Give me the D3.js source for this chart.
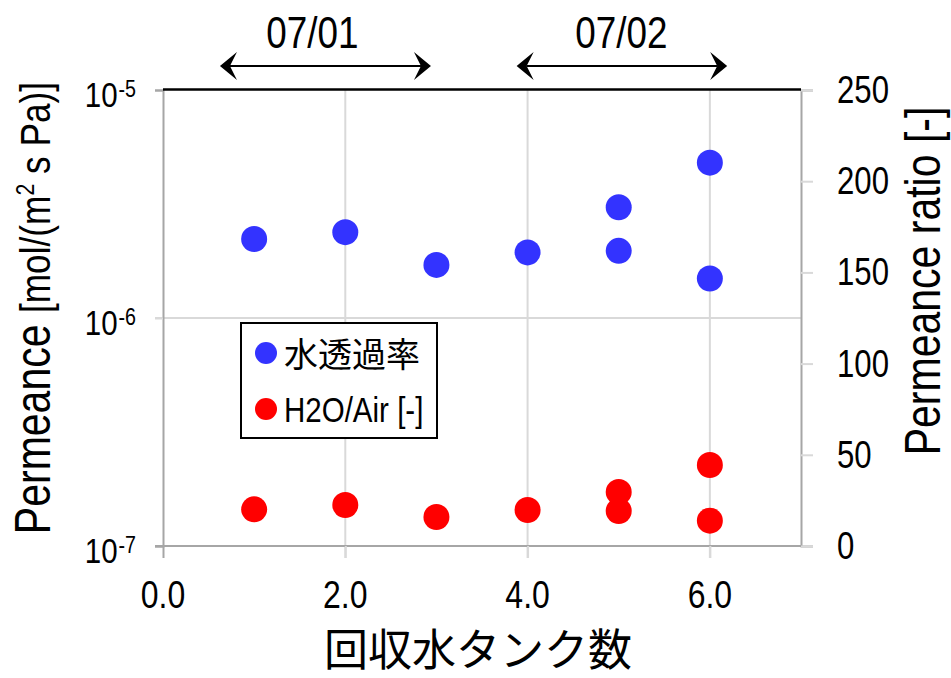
<!DOCTYPE html>
<html>
<head>
<meta charset="utf-8">
<script src="https://cdn.jsdelivr.net/npm/d3@7"></script>
<style>
  html, body { margin: 0; padding: 0; background: #fff; }
  svg { display: block; }
</style>
</head>
<body>
<svg id="chart" width="951" height="678"></svg>
<script>
// Number of recovered water tanks (x) for each measurement
const tanks = [1, 2, 3, 4, 5, 5, 6, 6];
// Water permeance [mol/(m2 s Pa)], left log axis
const waterPermeance = [2.22e-6, 2.38e-6, 1.71e-6, 1.94e-6, 3.06e-6, 1.97e-6, 4.80e-6, 1.49e-6];
// H2O/Air permeance ratio [-], right axis
const permeanceRatio = [20.1, 22.5, 15.9, 19.7, 29.6, 19.2, 44.4, 13.9];

const xTicks = [0, 2, 4, 6];
const leftTicks = [1e-7, 1e-6, 1e-5];
const rightTicks = [0, 50, 100, 150, 200, 250];

// Measurement days spanning tank ranges
const periodLabels = ["07/01", "07/02"];
const periodStart = [0.625, 3.88];
const periodEnd = [2.94, 6.19];
const periodLabelAt = [1.64, 5.03];

const seriesNames = ["水透過率", "H2O/Air [-]"];
const seriesColors = ["#3333ff", "#ff0000"];

const SANS = "'Liberation Sans', Arial, sans-serif";
const CJK = "'Noto Sans CJK JP', sans-serif";
const SQUEEZE = 0.82; // condensed Latin lettering

const svg = d3.select("#chart");
const L = 163, R = 801, T = 90, B = 546;

const x = d3.scaleLinear().domain([0, 7]).range([L, R]);
const yL = d3.scaleLog().domain([1e-7, 1e-5]).range([B, T]);
const yR = d3.scaleLinear().domain([0, 250]).range([B, T]);

const gridColor = "#d9d9d9";
const axisColor = "#a6a6a6";

// condensed text placed at (px, py), optionally rotated
function narrow(parent, px, py, size, anchor, rotate) {
  return parent.append("text")
    .attr("transform", `translate(${px},${py})${rotate ? " rotate(-90)" : ""} scale(${SQUEEZE},1)`)
    .attr("text-anchor", anchor || "start")
    .style("font-family", SANS).style("font-size", size + "px")
    .attr("fill", "#000");
}

// vertical grid lines (continue below the axis as ticks)
svg.append("g").selectAll("line").data(xTicks.filter(d => d > 0)).join("line")
  .attr("x1", d => x(d)).attr("x2", d => x(d))
  .attr("y1", T).attr("y2", B + 12)
  .attr("stroke", gridColor).attr("stroke-width", 2);

// horizontal grid lines on the log axis
svg.append("g").selectAll("line").data(leftTicks.slice(1, -1)).join("line")
  .attr("x1", L - 8).attr("x2", R)
  .attr("y1", d => yL(d)).attr("y2", d => yL(d))
  .attr("stroke", gridColor).attr("stroke-width", 2);

// left axis
const gLeft = svg.append("g").attr("transform", `translate(${L},0)`)
  .call(d3.axisLeft(yL).tickValues(leftTicks).tickSize(8).tickFormat(() => ""));
gLeft.select(".domain").attr("stroke", axisColor).attr("stroke-width", 2);
gLeft.selectAll(".tick line").attr("stroke", d => (d === 1e-6 ? gridColor : axisColor)).attr("stroke-width", 2);

const gLeftLabels = svg.append("g");
leftTicks.forEach(v => {
  const t = narrow(gLeftLabels, 136, yL(v) + 17, 36, "end");
  t.append("tspan").text("10");
  t.append("tspan").style("font-size", "24px").attr("dy", -10).attr("dx", 1)
    .text(String(Math.round(Math.log10(v))));
});

// right axis
const gRight = svg.append("g").attr("transform", `translate(${R},0)`)
  .call(d3.axisRight(yR).tickValues(rightTicks).tickSize(12).tickFormat(() => ""));
gRight.select(".domain").attr("stroke", axisColor).attr("stroke-width", 2);
gRight.selectAll(".tick line").attr("stroke", gridColor).attr("stroke-width", 2);
const gRightLabels = svg.append("g");
rightTicks.forEach(v => {
  narrow(gRightLabels, 837, yR(v) + 13, 38, "start").text(d3.format("d")(v));
});

// bottom axis
const gBottom = svg.append("g").attr("transform", `translate(0,${B})`)
  .call(d3.axisBottom(x).tickValues(xTicks).tickSize(12).tickFormat(() => ""));
gBottom.select(".domain").attr("stroke", axisColor).attr("stroke-width", 2)
  .attr("d", `M${L - 8},0H${R}`);
gBottom.selectAll(".tick line").attr("stroke", d => (d === 0 ? axisColor : gridColor)).attr("stroke-width", 2);
const gBottomLabels = svg.append("g");
xTicks.forEach(v => {
  narrow(gBottomLabels, x(v), 608, 39, "middle").text(d3.format(".1f")(v));
});

// top border
svg.append("line").attr("x1", L).attr("x2", R).attr("y1", T - 0.5).attr("y2", T - 0.5)
  .attr("stroke", "#000").attr("stroke-width", 2.5);

// water permeance points
svg.append("g").selectAll("circle").data(tanks).join("circle")
  .attr("cx", d => x(d)).attr("cy", (d, i) => yL(waterPermeance[i]))
  .attr("r", 13).attr("fill", seriesColors[0]);

// permeance ratio points
svg.append("g").selectAll("circle").data(tanks).join("circle")
  .attr("cx", d => x(d)).attr("cy", (d, i) => yR(permeanceRatio[i]))
  .attr("r", 13).attr("fill", seriesColors[1]);

// axis titles
const leftTitle = narrow(svg, 50, 308, 50, "middle", true);
leftTitle.append("tspan").text("Permeance ");
leftTitle.append("tspan").style("font-size", "43px").text("[mol/(m");
leftTitle.append("tspan").style("font-size", "26px").attr("dy", -16).text("2");
leftTitle.append("tspan").style("font-size", "43px").attr("dy", 16).text(" s Pa)]");

narrow(svg, 940, 281, 50, "middle", true).text("Permeance ratio [-]");

svg.append("text")
  .attr("x", 478).attr("y", 666).attr("text-anchor", "middle")
  .style("font-family", CJK).style("font-size", "44px").attr("fill", "#000")
  .text("回収水タンク数");

// legend
const legend = svg.append("g");
legend.append("rect").attr("x", 241).attr("y", 323).attr("width", 196).attr("height", 115)
  .attr("fill", "#fff").attr("stroke", "#000").attr("stroke-width", 2);
const legendY = [353, 409];
legend.selectAll("circle").data(seriesNames).join("circle")
  .attr("cx", 266).attr("cy", (d, i) => legendY[i]).attr("r", 11)
  .attr("fill", (d, i) => seriesColors[i]);
legend.append("text").attr("x", 284).attr("y", legendY[0]).attr("dy", "0.4em")
  .style("font-family", CJK).style("font-size", "34px").attr("fill", "#000")
  .text(seriesNames[0]);
narrow(legend, 284, legendY[1] + 13, 36, "start").text(seriesNames[1]);

// measurement day arrows
const arrowY = 66;
const head = (tipX, dir) => `M${tipX},${arrowY}L${tipX + dir * 17},${arrowY - 14}L${tipX + dir * 10},${arrowY}L${tipX + dir * 17},${arrowY + 14}Z`;
const periods = svg.append("g");
periodLabels.forEach((label, i) => {
  const x0 = x(periodStart[i]), x1 = x(periodEnd[i]);
  periods.append("line").attr("x1", x0 + 10).attr("x2", x1 - 10)
    .attr("y1", arrowY).attr("y2", arrowY).attr("stroke", "#000").attr("stroke-width", 2);
  periods.append("path").attr("d", head(x0, 1)).attr("fill", "#000");
  periods.append("path").attr("d", head(x1, -1)).attr("fill", "#000");
  narrow(periods, x(periodLabelAt[i]), 48, 45, "middle").text(label);
});
</script>
</body>
</html>
